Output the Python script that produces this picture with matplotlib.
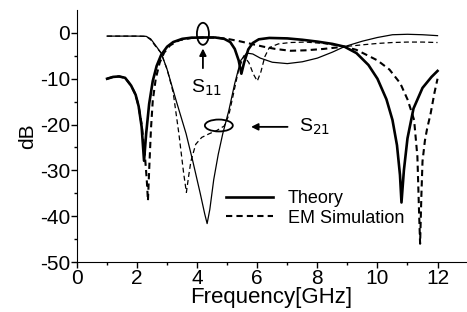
import matplotlib
matplotlib.use('Agg')
import matplotlib.pyplot as plt
from matplotlib.patches import Ellipse

plt.rcParams['font.family'] = ['Liberation Sans', 'DejaVu Sans']
plt.rcParams['axes.unicode_minus'] = False

# Theory S11 (thick solid)
f_th11 = [1.0, 1.2, 1.4, 1.6, 1.8, 1.95, 2.05, 2.15, 2.23, 2.3, 2.4, 2.52, 2.65, 2.8, 3.0, 3.2,
          3.5, 3.8, 4.2, 4.6, 4.9, 5.1, 5.25, 5.38, 5.47, 5.56, 5.7, 5.85, 6.05, 6.4, 7.0, 7.5,
          8.0, 8.5, 8.9, 9.3, 9.7, 10.0, 10.3, 10.5, 10.65, 10.75, 10.8, 10.88, 11.0, 11.2,
          11.5, 11.8, 12.0]
db_th11 = [-10.0, -9.6, -9.5, -9.8, -11.5, -13.5, -16.0, -20.5, -27.9, -22.0, -15.5, -10.5,
           -7.2, -4.8, -3.0, -2.0, -1.3, -1.05, -1.0, -1.0, -1.3, -2.0, -3.5, -6.0, -8.9,
           -6.5, -3.6, -2.2, -1.4, -1.1, -1.2, -1.5, -1.9, -2.4, -3.0, -4.4, -7.0, -10.0,
           -14.5, -19.0, -24.5, -31.0, -37.0, -30.0, -23.0, -16.5, -12.0, -9.6, -8.3]

# EM simulation S11 (dashed)
f_em11 = [1.0, 1.2, 1.4, 1.6, 1.8, 1.95, 2.05, 2.15, 2.25, 2.32, 2.36, 2.4, 2.46, 2.52, 2.62,
          2.75, 2.9, 3.1, 3.4, 3.8, 4.2, 4.6, 5.0, 5.4, 5.8, 6.2, 6.6, 7.1, 7.6, 8.2, 8.9,
          9.3, 9.7, 10.0, 10.4, 10.76, 11.0, 11.1, 11.22, 11.33, 11.38, 11.42, 11.46, 11.5,
          11.58, 11.65, 11.77, 11.9, 12.0]
db_em11 = [-10.0, -9.6, -9.5, -9.8, -11.5, -13.5, -16.0, -20.0, -26.0, -32.0, -36.6, -30.0,
           -21.0, -14.8, -10.0, -6.5, -4.3, -2.7, -1.6, -1.1, -1.0, -1.0, -1.3, -1.8,
           -2.4, -3.0, -3.5, -3.9, -3.8, -3.5, -3.0, -3.7, -5.0, -6.0, -8.0, -11.0, -14.5,
           -16.5, -19.0, -27.0, -38.0, -46.0, -36.0, -28.0, -23.5, -21.0, -17.6, -13.0,
           -10.0]

# Theory S21 (thin solid)
f_th21 = [1.0, 1.5, 2.0, 2.3, 2.45, 2.6, 2.8, 3.0, 3.3, 3.63, 3.85, 4.1, 4.25, 4.33, 4.42,
          4.55, 4.7, 4.85, 5.05, 5.25, 5.45, 5.65, 5.85, 6.1, 6.5, 7.0, 7.5, 8.0, 8.5, 8.9,
          9.5, 10.0, 10.5, 11.0, 11.5, 12.0]
db_th21 = [-0.7, -0.7, -0.7, -0.75, -1.3, -2.6, -4.4, -8.0, -14.8, -22.0, -27.9, -35.0,
           -39.5, -41.6, -38.5, -32.0, -26.5, -22.0, -17.0, -11.0, -6.0, -4.4, -4.6,
           -5.5, -6.4, -6.7, -6.3, -5.5, -4.2, -3.0, -1.8, -1.0, -0.4, -0.3, -0.4, -0.6]

# EM simulation S21 (thin dashed)
f_em21 = [1.0, 1.5, 2.0, 2.3, 2.45, 2.6, 2.8, 3.0, 3.2, 3.39, 3.55, 3.64, 3.72, 3.79, 3.95,
          4.15, 4.4, 4.65, 4.9, 5.05, 5.2, 5.38, 5.55, 5.72, 5.87, 6.0, 6.12, 6.25, 6.4,
          6.7, 7.1, 7.6, 8.2, 8.9, 9.5, 10.0, 10.5, 11.0, 11.5, 12.0]
db_em21 = [-0.7, -0.7, -0.7, -0.75, -1.5, -2.8, -4.4, -8.0, -13.0, -22.0, -30.7, -34.8,
           -31.0, -28.0, -24.3, -22.8, -22.0, -21.3, -20.3, -18.0, -13.5, -8.0, -5.0,
           -6.5, -9.0, -10.5, -8.5, -5.2, -3.2, -2.4, -2.1, -2.0, -2.3, -3.0, -2.6, -2.3,
           -2.1, -2.0, -2.0, -2.1]

fig = plt.figure(figsize=(4.67, 3.12), dpi=100)
ax = fig.add_axes([0.165, 0.16, 0.833, 0.808])

ax.plot(f_th11, db_th11, color='black', lw=1.9, label='Theory')
ax.plot(f_em11, db_em11, color='black', lw=1.5, ls=(0, (3, 2)), label='EM Simulation')
ax.plot(f_th21, db_th21, color='black', lw=0.9)
ax.plot(f_em21, db_em21, color='black', lw=0.9, ls=(0, (4, 2.5)))

# annotations
ax.add_patch(Ellipse((4.19, -0.2), 0.4, 4.8, fill=False, color='black', lw=1.3))
ax.annotate('', xy=(4.19, -2.8), xytext=(4.19, -8.3),
            arrowprops=dict(arrowstyle='-|>', color='black', lw=1.3, mutation_scale=10))
ax.text(4.3, -12.0, 'S$_{11}$', fontsize=14, ha='center', va='center')

ax.add_patch(Ellipse((4.72, -20.2), 0.93, 2.6, fill=False, color='black', lw=1.3))
ax.annotate('', xy=(5.7, -20.5), xytext=(7.1, -20.5),
            arrowprops=dict(arrowstyle='-|>', color='black', lw=1.3, mutation_scale=10))
ax.text(7.4, -20.5, 'S$_{21}$', fontsize=14, ha='left', va='center')

ax.set_xlim(0, 12.95)
ax.set_ylim(-50, 5)
ax.set_xticks([0, 2, 4, 6, 8, 10, 12])
ax.set_xticks([1, 3, 5, 7, 9, 11], minor=True)
ax.set_yticks([-50, -40, -30, -20, -10, 0])
ax.set_yticks([-45, -35, -25, -15, -5], minor=True)
ax.tick_params(which='major', direction='out', length=4, width=1, labelsize=15, pad=1)
ax.tick_params(which='minor', direction='out', length=2.5, width=1)
ax.spines['top'].set_visible(False)
ax.spines['right'].set_visible(False)

ax.set_xlabel('Frequency[GHz]', fontsize=16, labelpad=-1)
ax.set_ylabel('dB', fontsize=15, labelpad=2)

ax.legend(loc='upper left', bbox_to_anchor=(0.365, 0.315), frameon=False, fontsize=13,
          handlelength=2.6, handletextpad=0.8, labelspacing=0.15, borderaxespad=0)

fig.savefig('out.png', dpi=100)
